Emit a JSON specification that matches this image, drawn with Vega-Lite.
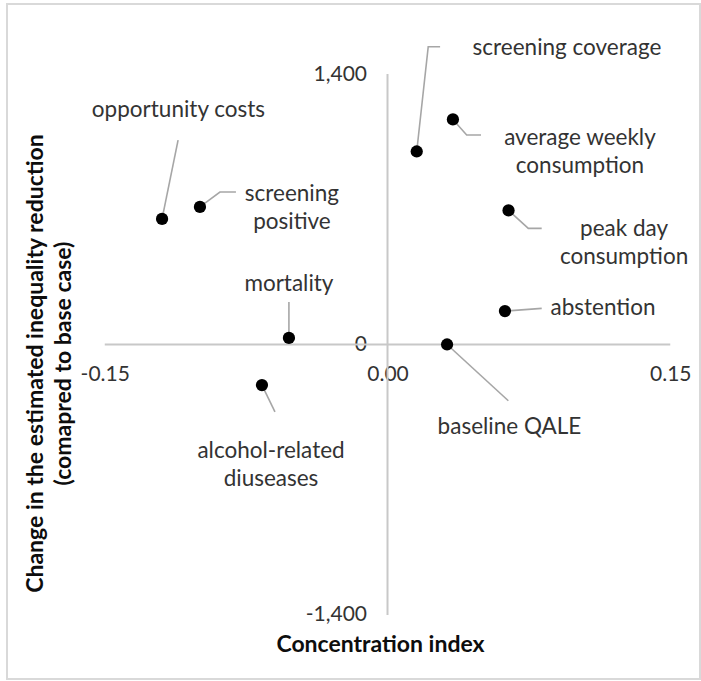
{
  "$schema": "https://vega.github.io/schema/vega-lite/v6.json",
  "width": 693,
  "height": 675,
  "autosize": {"type": "none"},
  "padding": {"left": 7, "top": 4, "right": 1, "bottom": 2},
  "background": "white",
  "config": {
    "view": {"stroke": "#d9d9d9", "strokeWidth": 2},
    "font": "Lato"
  },
  "datasets": {
    "points": [
      {"factor": "opportunity costs", "ci": -0.1196, "change": 650},
      {"factor": "screening positive", "ci": -0.0995, "change": 712},
      {"factor": "mortality", "ci": -0.0523, "change": 34},
      {"factor": "alcohol-related diuseases", "ci": -0.0666, "change": -210},
      {"factor": "screening coverage", "ci": 0.0155, "change": 999},
      {"factor": "average weekly consumption", "ci": 0.0347, "change": 1165},
      {"factor": "peak day consumption", "ci": 0.0642, "change": 694},
      {"factor": "abstention", "ci": 0.0623, "change": 173},
      {"factor": "baseline QALE", "ci": 0.0316, "change": 0}
    ],
    "leaders": [
      {"factor": "opportunity costs", "seq": 1, "ci": -0.1196, "change": 650},
      {"factor": "opportunity costs", "seq": 2, "ci": -0.1111, "change": 1058},
      {"factor": "screening positive", "seq": 1, "ci": -0.0995, "change": 712},
      {"factor": "screening positive", "seq": 2, "ci": -0.0889, "change": 789},
      {"factor": "screening positive", "seq": 3, "ci": -0.0804, "change": 789},
      {"factor": "mortality", "seq": 1, "ci": -0.0523, "change": 34},
      {"factor": "mortality", "seq": 2, "ci": -0.0523, "change": 220},
      {"factor": "alcohol-related diuseases", "seq": 1, "ci": -0.0666, "change": -210},
      {"factor": "alcohol-related diuseases", "seq": 2, "ci": -0.0597, "change": -349},
      {"factor": "screening coverage", "seq": 1, "ci": 0.0155, "change": 999},
      {"factor": "screening coverage", "seq": 2, "ci": 0.0216, "change": 1541},
      {"factor": "screening coverage", "seq": 3, "ci": 0.0279, "change": 1541},
      {"factor": "average weekly consumption", "seq": 1, "ci": 0.0347, "change": 1165},
      {"factor": "average weekly consumption", "seq": 2, "ci": 0.042, "change": 1084},
      {"factor": "average weekly consumption", "seq": 3, "ci": 0.0496, "change": 1084},
      {"factor": "peak day consumption", "seq": 1, "ci": 0.0642, "change": 694},
      {"factor": "peak day consumption", "seq": 2, "ci": 0.0747, "change": 601},
      {"factor": "peak day consumption", "seq": 3, "ci": 0.0818, "change": 601},
      {"factor": "abstention", "seq": 1, "ci": 0.0623, "change": 173},
      {"factor": "abstention", "seq": 2, "ci": 0.0818, "change": 187},
      {"factor": "baseline QALE", "seq": 1, "ci": 0.0316, "change": 0},
      {"factor": "baseline QALE", "seq": 2, "ci": 0.0641, "change": -291}
    ],
    "labels": [
      {"text": "opportunity costs", "ci": -0.1109, "change": 1214},
      {"text": "screening\npositive", "ci": -0.0507, "change": 779},
      {"text": "mortality", "ci": -0.0523, "change": 313},
      {"text": "alcohol-related\ndiuseases", "ci": -0.0618, "change": -551},
      {"text": "screening coverage", "ci": 0.0952, "change": 1535},
      {"text": "average weekly\nconsumption", "ci": 0.1021, "change": 1071},
      {"text": "peak day\nconsumption", "ci": 0.1255, "change": 598},
      {"text": "abstention", "ci": 0.1143, "change": 189},
      {"text": "baseline QALE", "ci": 0.0647, "change": -427}
    ]
  },
  "layer": [
    {
      "data": {"values": [{}]},
      "mark": {"type": "rule", "color": "#c8c8c8", "strokeWidth": 2},
      "encoding": {
        "x": {"datum": -0.15, "type": "quantitative"},
        "x2": {"datum": 0.15},
        "y": {"datum": 0, "type": "quantitative"}
      }
    },
    {
      "data": {"values": [{}]},
      "mark": {"type": "rule", "color": "#c8c8c8", "strokeWidth": 2},
      "encoding": {
        "x": {"datum": 0, "type": "quantitative"},
        "y": {"datum": -1400, "type": "quantitative"},
        "y2": {"datum": 1400}
      }
    },
    {
      "data": {"name": "leaders"},
      "mark": {"type": "line", "color": "#a6a6a6", "strokeWidth": 1.6},
      "encoding": {
        "x": {"field": "ci", "type": "quantitative"},
        "y": {"field": "change", "type": "quantitative"},
        "detail": {"field": "factor"},
        "order": {"field": "seq", "type": "quantitative"}
      }
    },
    {
      "data": {"name": "points"},
      "mark": {"type": "point", "filled": true, "color": "#000000", "size": 150, "opacity": 1},
      "encoding": {
        "x": {
          "field": "ci", "type": "quantitative",
          "scale": {"domain": [-0.20186, 0.16578], "nice": false, "zero": false},
          "axis": {
            "orient": "bottom", "offset": -334.5, "values": [-0.15, 0, 0.15],
            "labelExpr": "datum.value < 0 ? '-' + format(-datum.value, '.2f') : format(datum.value, '.2f')",
            "domain": false, "ticks": false, "tickSize": 0, "grid": false,
            "labelPadding": 19, "labelFontSize": 21, "labelColor": "#333333", "labelFont": "Lato",
            "labelOverlap": false, "labelBound": false, "labelFlush": false,
            "title": "Concentration index", "titleX": 373, "titleY": 299.5,
            "titleBaseline": "middle", "titleAlign": "center", "titleAngle": 0,
            "titleFontSize": 23, "titleFont": "Lato", "titleFontWeight": "bold", "titleColor": "#0d0d0d"
          }
        },
        "y": {
          "field": "change", "type": "quantitative",
          "scale": {"domain": [-1731.3, 1762.3], "nice": false, "zero": false},
          "axis": {
            "orient": "left", "offset": -380.5, "values": [-1400, 0, 1400],
            "labelExpr": "datum.value < 0 ? '-' + format(-datum.value, ',') : format(datum.value, ',')",
            "domain": false, "ticks": false, "tickSize": 0, "grid": false,
            "labelPadding": 21, "labelFontSize": 21, "labelColor": "#333333", "labelFont": "Lato",
            "labelOverlap": false, "labelBound": false, "labelFlush": false,
            "title": ["Change in the estimated inequality reduction", "(comapred to base case)"],
            "titleX": -352, "titleY": 359, "titleAngle": -90,
            "titleBaseline": "middle", "titleAlign": "center", "titleLineHeight": 28,
            "titleFontSize": 23, "titleFont": "Lato", "titleFontWeight": "bold", "titleColor": "#0d0d0d"
          }
        }
      }
    },
    {
      "data": {"name": "labels"},
      "mark": {"type": "text", "align": "center", "baseline": "middle", "lineBreak": "\n", "lineHeight": 28.5, "fontSize": 22.5, "font": "Lato", "color": "#333333"},
      "encoding": {
        "x": {"field": "ci", "type": "quantitative"},
        "y": {"field": "change", "type": "quantitative"},
        "text": {"field": "text"}
      }
    }
  ]
}
